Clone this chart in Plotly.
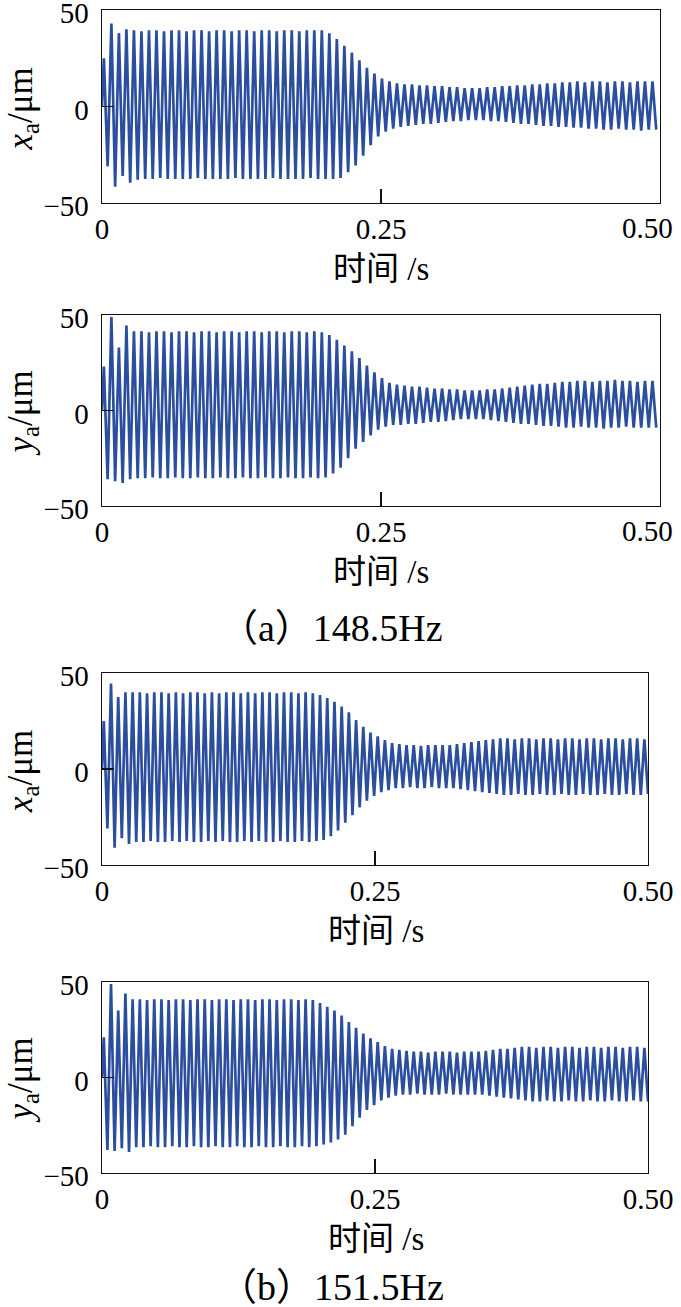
import plotly.graph_objects as go

W, H = 681, 1307

# ---------------- data (per-cycle upper / lower peaks) -------------
freq_a = 148.5
freq_b = 151.5

xa_a_upper = [25, 43, 38, 40, 39.5,
              39, 39.5, 39.5, 39, 39.5, 39.5, 39, 39.5, 39.5, 39, 39.5, 39.5,
              39, 39.5, 39.5, 39, 39.5, 39.5, 39, 39.5, 39.5, 39, 39.5, 39.5,
              39.5, 38, 35, 31.5, 28, 24, 20, 17, 14.5, 13,
              12, 11.5, 11.5, 11, 11, 10.5, 10.5, 10, 10, 9.5,
              9.5, 9.5, 10, 10, 10.5, 10.5, 11, 11, 11.5, 11.5,
              12, 12, 12.5, 12.5,
              13, 12.5, 13, 13, 12.5, 13, 13, 12.5, 13, 13, 13]
xa_a_lower = [-31, -41.5, -36, -39.5, -38,
              -37.5, -37.5, -37, -37.5, -37.5, -37.5, -37.5, -37, -37.5, -37.5,
              -37.5, -37.5, -37, -37.5, -37.5, -37.5, -37.5, -37, -37.5, -37.5,
              -37.5, -37.5, -37, -37.5, -37.5,
              -37.5, -37, -34, -30.5, -25.5, -20, -15.5, -13, -11.5, -10.5,
              -10, -9.5, -9, -9, -8.5, -8, -7.5, -7.5, -7, -7,
              -7, -7.5, -7.5, -8, -8.5, -9, -9, -9.5, -10, -10,
              -10.5, -10.5, -11, -11, -11.5, -11.5,
              -12, -12, -11.5, -12, -12, -12.5, -12, -12]

ya_a_upper = [23, 49, 33, 44.5, 41.5,
              41.5, 41, 41.5, 41.5, 41, 41.5, 41.5, 41, 41.5, 41.5, 41, 41.5,
              41.5, 41, 41.5, 41.5, 41, 41.5, 41.5, 41, 41.5, 41.5, 41, 41.5,
              41, 39.5, 37, 34, 31, 27.5, 23.5, 20, 17, 14.5,
              13.5, 13, 12.5, 12.5, 12, 11.5, 11.5, 11, 11, 10.5,
              10.5, 10.5, 11, 11, 11.5, 12, 12.5, 13, 13.5, 14,
              14, 14.5, 15, 15,
              15.5, 15.5, 15, 15.5, 15.5, 16, 15.5, 15.5, 15, 15.5, 15.5]
ya_a_lower = [-36, -37, -38, -36, -35.5,
              -35.5, -35, -35.5, -35.5, -35, -35.5, -35.5, -35, -35.5, -35.5, -35, -35.5,
              -35.5, -35, -35.5, -35.5, -35, -35.5, -35.5, -35, -35.5, -35.5, -35, -35.5,
              -35, -33, -30, -25, -20, -16.5, -13, -10, -8.5, -7.5,
              -7.5, -7, -7, -6.5, -6, -6, -5.5, -5, -4.5, -4.5,
              -4.5, -4.5, -5, -5.5, -6, -6.5, -7, -7, -7.5, -8,
              -8, -8.5,
              -9, -9, -8.5, -9, -9, -9.5, -9, -9, -8.5, -9, -9, -9, -9]

xa_b_upper = [25, 44.5, 37.5, 40, 40,
              40, 39.5, 40, 40, 39.5, 40, 39.5, 40, 40, 39.5, 40, 39.5, 40,
              40, 39.5, 40, 39.5, 40, 40, 39.5, 40, 40, 39.5, 40, 39.5,
              38.5, 37, 35, 32.5, 29.5, 25.5, 22, 19, 17, 15, 13.5, 13,
              12.5, 12.5, 12, 12.5, 12.5, 12.5, 12.5,
              13, 13.5, 14, 14.5, 15, 15.5,
              16, 16, 15.5, 16, 16, 15.5, 16, 16, 15.5, 16, 16, 15.5,
              16, 16, 15.5, 16, 16, 15.5, 16, 16, 15.5]
xa_b_lower = [-31, -41, -36, -39, -38,
              -38, -37.5, -38, -38, -37.5, -38, -37.5, -38, -38, -37.5,
              -38, -37.5, -38, -38, -37.5, -38, -37.5, -38, -38, -37.5,
              -38, -38, -37.5, -38, -37.5,
              -37, -35, -32, -28, -24, -20, -16.5, -14, -12, -11, -10,
              -10, -9.5, -10, -10, -9.5, -10, -10, -10,
              -10.5, -11, -11.5, -12, -12.5, -13,
              -13.5, -13.5, -13, -13.5, -13.5, -13, -13.5, -13.5, -13, -13.5, -13.5, -13,
              -13.5, -13.5, -13, -13.5, -13.5, -13, -13.5, -13.5, -13]

ya_b_upper = [21, 49, 35, 44, 41,
              41, 40.5, 41, 41, 40.5, 41, 41, 40.5, 41, 41, 40.5, 41,
              41, 40.5, 41, 41, 40.5, 41, 41, 40.5, 41, 41, 40.5, 41,
              40.5, 39, 37, 35, 32.5, 29, 26, 23, 20.5, 18.5, 16.5, 15, 14.5, 14,
              13.5, 13.5, 13, 13.5, 13.5, 13.5, 13, 13.5, 13.5, 13.5,
              14, 14.5, 15, 15, 15.5,
              16, 16, 15.5, 16, 16, 15.5, 16, 16, 15.5, 16, 16, 15.5,
              16, 16, 15.5, 16, 16, 15.5]
ya_b_lower = [-38, -38.5, -37, -39, -36.5,
              -36.5, -36, -36.5, -36.5, -36, -36.5, -36.5, -36, -36.5, -36.5, -36, -36.5,
              -36.5, -36, -36.5, -36.5, -36, -36.5, -36.5, -36, -36.5, -36.5, -36, -36.5,
              -36, -35, -34, -32.5, -30, -25.5, -21, -17, -14.5, -12, -10.5, -9.5,
              -9, -9, -8.5, -9, -9, -9, -8.5, -9, -9, -9, -9, -9,
              -9.5, -10, -10.5, -11, -11.5, -12,
              -12.5, -12.5, -12, -12.5, -12.5, -12, -12.5, -12.5, -12, -12.5, -12.5, -12,
              -12.5, -12.5, -12, -12.5, -12.5]

y_tickvals = [-50, 0, 50]
y_ticktext = ["\u221250", "0", "50"]
x_tickvals = [0, 0.25, 0.5]
x_ticktext = ["0", "0.25", "0.50"]
captions = ["\uff08a\uff09148.5Hz", "\uff08b\uff09151.5Hz"]

# ---------------- layout geometry (page pixels) ----------------
panels = [
    (xa_a_upper, xa_a_lower, freq_a, "x", 102, 660, 10, 203),
    (ya_a_upper, ya_a_lower, freq_a, "y", 102, 660, 315, 506),
    (xa_b_upper, xa_b_lower, freq_b, "x", 102, 648, 673, 865),
    (ya_b_upper, ya_b_lower, freq_b, "y", 102, 648, 982, 1173),
]

SERIF = "Liberation Serif, Times New Roman, serif"
LINE = "#2b4f9e"
TICKSIZE = 29

fig = go.Figure()
layout = dict(width=W, height=H, margin=dict(l=0, r=0, t=0, b=0, autoexpand=False),
              paper_bgcolor="white", plot_bgcolor="white", showlegend=False)
annotations = []

def px(x):
    return x / W

def py(y):
    return 1 - y / H

for k, (up, lo, f, var, x0, x1, yt, yb) in enumerate(panels):
    n = k + 1
    ts = [0.0]
    vs = [0.0]
    for i, (u, l) in enumerate(zip(up, lo)):
        ts += [(i + 0.25) / f, (i + 0.75) / f]
        vs += [u, l]
    xa_name = "x" if n == 1 else f"x{n}"
    ya_name = "y" if n == 1 else f"y{n}"
    fig.add_trace(go.Scatter(x=ts, y=vs, mode="lines", xaxis=xa_name, yaxis=ya_name,
                             line=dict(color=LINE, width=2.7), hoverinfo="skip"))
    show_050 = x1 < 655
    layout[f"xaxis{'' if n == 1 else n}"] = dict(
        domain=[px(x0), px(x1)], anchor=ya_name, range=[0, 0.5], automargin=False,
        tickvals=x_tickvals if show_050 else x_tickvals[:2],
        ticktext=x_ticktext if show_050 else x_ticktext[:2],
        ticks="inside", ticklen=14, tickwidth=1.3, tickcolor="#111",
        showline=True, linecolor="#111", linewidth=1.4, mirror=True,
        showgrid=False, zeroline=False, ticklabelstandoff=0, ticklabeloverflow="allow",
        tickfont=dict(family=SERIF, size=TICKSIZE, color="black"))
    layout[f"yaxis{'' if n == 1 else n}"] = dict(
        domain=[py(yb), py(yt)], anchor=xa_name, range=[-50, 50], automargin=False,
        tickvals=y_tickvals, ticktext=y_ticktext,
        ticks="inside", ticklen=12, tickwidth=1.3, tickcolor="#111",
        showline=True, linecolor="#111", linewidth=1.4, mirror=True,
        showgrid=False, zeroline=False, ticklabelstandoff=6, ticklabeloverflow="allow",
        ticklabelshift=3,
        tickfont=dict(family=SERIF, size=TICKSIZE, color="black"))
    annotations.append(dict(
        text=f"<i>{var}</i><sub>a</sub>/\u03bcm", textangle=-90,
        x=px(22), y=py((yt + yb) / 2 + 3), xref="paper", yref="paper",
        xanchor="center", yanchor="middle", showarrow=False,
        font=dict(family=SERIF, size=35, color="black")))
    annotations.append(dict(
        text='<span style="font-family:Noto Sans CJK SC">\u65f6\u95f4</span> /s',
        x=px(381 if x1 > 655 else 376), y=py(yb + 63), xref="paper", yref="paper",
        xanchor="center", yanchor="middle", showarrow=False,
        font=dict(family=SERIF, size=33, color="black")))
    if not show_050:
        annotations.append(dict(
            text=x_ticktext[2], x=px(647), y=py(yb + 25), xref="paper", yref="paper",
            xanchor="center", yanchor="middle", showarrow=False,
            font=dict(family=SERIF, size=TICKSIZE, color="black")))

for cap, yc in zip(captions, [628, 1287]):
    annotations.append(dict(text=cap, x=px(331), y=py(yc), xref="paper", yref="paper",
                            xanchor="center", yanchor="middle", showarrow=False,
                            font=dict(family="Liberation Serif, Noto Sans CJK SC", size=38,
                                      color="black")))

layout["annotations"] = annotations
fig.update_layout(**layout)
fig.write_html("out.html", config={"displayModeBar": False, "staticPlot": True},
               post_script="document.body.style.margin='0';document.body.style.padding='0';"
                           "document.body.style.overflow='hidden';")
